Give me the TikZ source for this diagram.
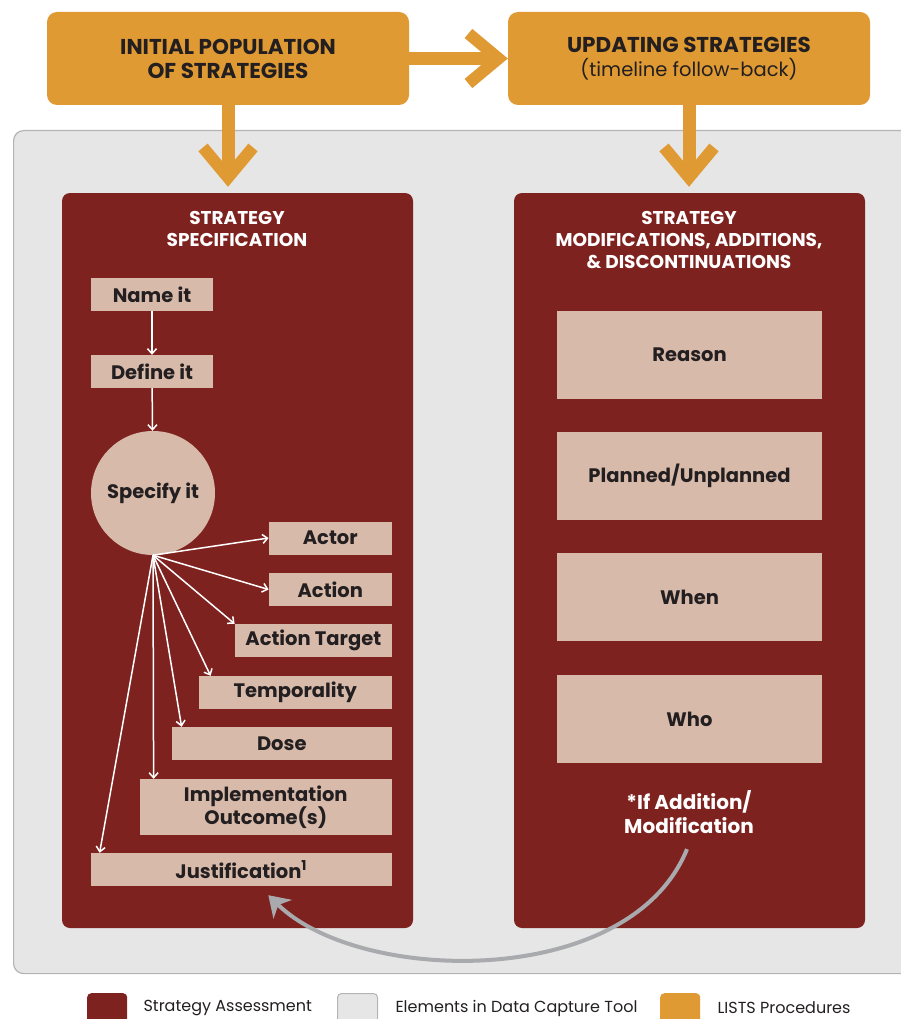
\documentclass[tikz,border=0pt]{standalone}
\usepackage{fontspec}
\setmainfont{Poppins}
\usetikzlibrary{arrows.meta,calc}
\definecolor{lists}{HTML}{E09A33}
\definecolor{assess}{HTML}{7E221F}
\definecolor{capture}{HTML}{E6E6E6}
\definecolor{capline}{HTML}{B4B4B4}
\definecolor{element}{HTML}{D8BAAB}
\definecolor{ink}{HTML}{231F20}
\definecolor{loopgray}{HTML}{A9AAAD}
\tikzset{
  proc/.style={fill=lists,rounded corners=10pt,minimum width=362pt,minimum height=93pt,align=center,text=ink,font=\fontsize{21.5}{24}\selectfont\bfseries},
  panel/.style={fill=assess,rounded corners=8pt,minimum width=351pt,minimum height=735pt},
  ptitle/.style={text=white,align=center,font=\fontsize{18.5}{22}\selectfont\bfseries},
  elem/.style={fill=element,text=ink,inner sep=0pt,align=center,font=\fontsize{19.5}{24}\selectfont\bfseries},
  flow/.style={line width=13pt,draw=lists,-{Straight Barb[length=30pt,width=50pt,line width=12pt]}},
  spoke/.style={white,line width=1.5pt,-{Straight Barb[length=5pt,width=9pt]}},
  legbox/.style={rounded corners=4pt,minimum width=40pt,minimum height=40pt,anchor=north west},
  legtext/.style={text=ink,anchor=west,font=\fontsize{16}{18}\selectfont}
}
\begin{document}
\begin{tikzpicture}[x=1pt,y=-1pt]
\useasboundingbox (0,0) rectangle (901,1019);
\node[fill=capture,draw=capline,line width=1.2pt,rounded corners=10pt,anchor=north west,minimum width=905pt,minimum height=843pt] (tool) at (13,130) {};
\node[proc] (init) at (228,58.5) {INITIAL POPULATION\\OF STRATEGIES};
\node[proc] (upd) at (689,58.5) {UPDATING STRATEGIES\\{\mdseries\fontsize{19.5}{24}\selectfont (timeline follow-back)}};
\node[panel] (specL) at (237.5,560.5) {};
\node[panel] (specR) at (689.5,560.5) {};
\draw[flow] (init) -- (upd);
\draw[flow,shorten >=6pt] (init.south) -- (init.south |- specL.north);
\draw[flow,shorten >=6pt] (upd.south) -- (upd.south |- specR.north);
\node[ptitle] (specT) at (237,229) {STRATEGY\\SPECIFICATION};
\node[ptitle] (modT) at (689,240) {STRATEGY\\MODIFICATIONS, ADDITIONS,\\\& DISCONTINUATIONS};

\node[elem,minimum width=122pt,minimum height=33pt] (name) at (152,294.5) {Name it};
\node[elem,minimum width=122pt,minimum height=33pt] (define) at (152,371.5) {Define it};
\node[elem,circle,minimum size=124pt] (spec) at (153,493) {Specify it};
\foreach \n/\w/\y/\t in {actor/123/538/Actor,action/123/589.5/Action,target/157/640.5/Action Target,tempo/193/692.5/Temporality,dose/220/743.5/Dose}
  \node[elem,anchor=east,minimum width=\w pt,minimum height=33pt] (\n) at (392,\y) {\t};
\node[elem,anchor=east,minimum width=252pt,minimum height=56pt,font=\fontsize{19.5}{23}\selectfont\bfseries] (impl) at (392,807) {Implementation\\Outcome(s)};
\node[elem,anchor=east,minimum width=301pt,minimum height=33pt] (just) at (392,869.5) {Justification\textsuperscript{1}};

\draw[spoke] (name) -- (define);
\draw[spoke] (define) -- (spec);
\coordinate (hub) at (spec.south);
\draw[spoke] (hub) -- (actor.west);
\draw[spoke] (hub) -- (action.west);
\draw[spoke] (hub) -- (target.north west);
\foreach \n/\d in {tempo/12,dose/10,impl/14,just/9}
  \draw[spoke] (hub) -- ($(\n.north west)+(\d,0)$);

\foreach \n/\y/\t in {reason/354.5/Reason,plan/476/{Planned/Unplanned},when/597/When,who/719/Who}
  \node[elem,minimum width=265pt,minimum height=88pt] (\n) at (689.5,\y) {\t};
\node[ptitle,font=\fontsize{20}{24}\selectfont\bfseries] (note) at (689,812) {*If Addition/\\Modification};
\draw[loopgray,line width=4pt,-{Stealth[length=20pt,width=26pt,inset=6pt]}] ($(note.south)+(-2,12)$) .. controls (630,990) and (360,985) .. ($(just.south)+(27,9)$);

\node[legbox,fill=assess] (legA) at (87,993) {};
\node[legtext] (legAt) at (140,1008) {Strategy Assessment};
\node[legbox,fill=capture,draw=capline,line width=1pt] (legB) at (337,993) {};
\node[legtext] (legBt) at (392,1008) {Elements in Data Capture Tool};
\node[legbox,fill=lists] (legC) at (660,993) {};
\node[legtext] (legCt) at (714,1008) {LISTS Procedures};
\end{tikzpicture}
\end{document}
